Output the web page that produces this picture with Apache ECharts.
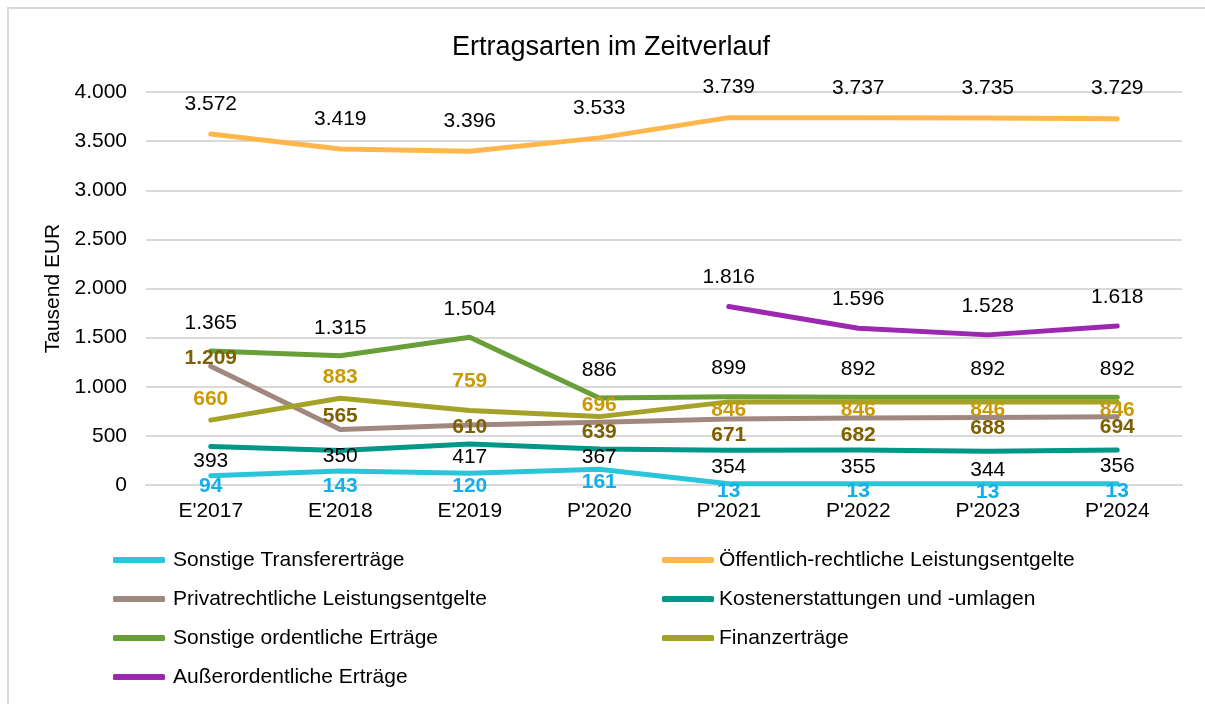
<!DOCTYPE html>
<html><head><meta charset="utf-8">
<script src="https://cdn.jsdelivr.net/npm/echarts@6/dist/echarts.min.js"></script>
<style>html,body{margin:0;padding:0;background:#fff;}#c{width:1205px;height:704px;}</style>
</head><body><div id="c"></div>
<script>
const categories = ["E'2017","E'2018","E'2019","P'2020","P'2021","P'2022","P'2023","P'2024"];
const transfer = [94,143,120,161,13,13,13,13];
const oeffentlich = [3572,3419,3396,3533,3739,3737,3735,3729];
const privat = [1209,565,610,639,671,682,688,694];
const kosten = [393,350,417,367,354,355,344,356];
const sonstige = [1365,1315,1504,886,899,892,892,892];
const finanz = [660,883,759,696,846,846,846,846];
const ausserord = [null,null,null,null,1816,1596,1528,1618];
const names = ["Sonstige Transfererträge","Öffentlich-rechtliche Leistungsentgelte","Privatrechtliche Leistungsentgelte","Kostenerstattungen und -umlagen","Sonstige ordentliche Erträge","Finanzerträge","Außerordentliche Erträge"];
const yTicks = [0,500,1000,1500,2000,2500,3000,3500,4000];

const FONT = '"Liberation Sans", Arial, sans-serif';
function fmt(v){ return String(v).replace(/\B(?=(\d{3})+(?!\d))/g,'.'); }

// label vertical offsets (style, per point)
const offs = {
  transfer:[10,15,13,13,7,7,8,7],
  privat:[-8,-13,2,10,16,17,11,10],
  kosten:[15,6,13,8,17,17,19,16],
  finanz:[-21,-21,-29,-11,8,8,8,8]
};
function withOffsets(arr, o){
  return arr.map((v,i)=> v==null ? null : (o ? {value:v, label:{offset:[0,o[i]]}} : v));
}
function mk(name, data, color, labelColor, bold, dy, o){
  return {
    name, type:'line', data: withOffsets(data, o), showSymbol:true, symbol:'circle', symbolSize:0.01,
    lineStyle:{color, width:5, cap:'round', join:'round'}, itemStyle:{color},
    connectNulls:false, z: 2,
    label:{show:true, position:'inside', offset:[0,dy], formatter:p=>fmt(p.value),
      color:labelColor, fontFamily:FONT, fontSize:21, fontWeight: bold?'bold':'normal'}
  };
}
const chart = echarts.init(document.getElementById('c'), null, {renderer:'canvas'});
chart.setOption({
  animation:false,
  backgroundColor:'#fff',
  textStyle:{fontFamily:FONT},
  graphic:[{type:'rect', shape:{x:8,y:8,width:1230,height:730}, style:{fill:'none', stroke:'#D9D9D9', lineWidth:2}, silent:true}],
  title:{text:'Ertragsarten im Zeitverlauf', left:447, top:29,
    textStyle:{fontFamily:FONT, fontSize:27, fontWeight:'normal', color:'#000'}},
  grid:{left:146, right:23, top:92, bottom:219},
  xAxis:{type:'category', data:categories, boundaryGap:true,
    axisLine:{show:true, lineStyle:{color:'#D9D9D9', width:2}}, axisTick:{show:false},
    axisLabel:{color:'#000', fontSize:21, fontFamily:FONT, margin:16}},
  yAxis:{type:'value', min:0, max:4000, interval:500,
    name:'Tausend EUR', nameLocation:'middle', nameGap:80, nameRotate:90,
    nameTextStyle:{color:'#000', fontSize:21, fontFamily:FONT},
    axisLine:{show:false}, axisTick:{show:false},
    splitLine:{lineStyle:{color:'#D9D9D9', width:2}},
    axisLabel:{color:'#000', fontSize:21, fontFamily:FONT, margin:19, formatter:v=>fmt(v)}},
  legend:[
    {orient:'vertical', left:108, top:543, itemWidth:52, itemHeight:6, itemGap:15, icon:'roundRect',
     data:[names[0],names[2],names[4],names[6]],
     textStyle:{color:'#000', fontSize:21, fontFamily:FONT, lineHeight:24, padding:[0,0,0,3]}},
    {orient:'vertical', left:657, top:543, itemWidth:52, itemHeight:6, itemGap:15, icon:'roundRect',
     data:[names[1],names[3],names[5]],
     textStyle:{color:'#000', fontSize:21, fontFamily:FONT, lineHeight:24, padding:[0,0,0,0]}}
  ],
  series:[
    mk(names[0], transfer, '#2BC5DA', '#14AEEB', true, 0, offs.transfer),
    mk(names[1], oeffentlich, '#FFB74D', '#000', false, -30),
    mk(names[2], privat, '#A1887F', '#7F6000', true, 0, offs.privat),
    mk(names[3], kosten, '#009688', '#000', false, 0, offs.kosten),
    mk(names[4], sonstige, '#689F38', '#000', false, -28),
    mk(names[5], finanz, '#A5A22A', '#C99A06', true, 0, offs.finanz),
    mk(names[6], ausserord, '#9C27B0', '#000', false, -29)
  ]
});
</script></body></html>
